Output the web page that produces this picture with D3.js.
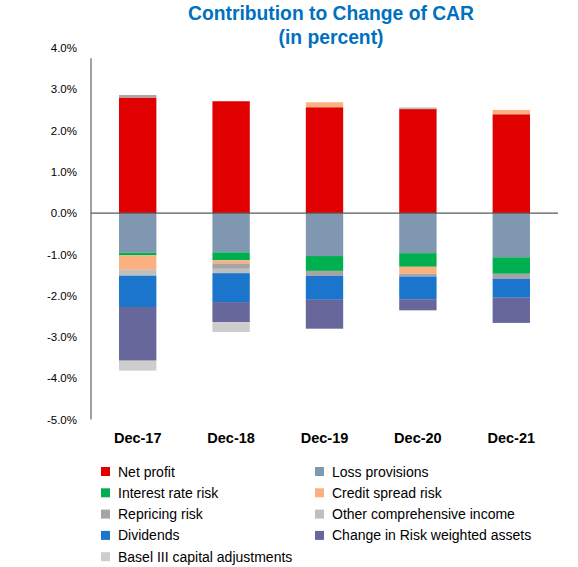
<!DOCTYPE html>
<html><head><meta charset="utf-8">
<script src="https://cdn.jsdelivr.net/npm/d3@7"></script>
<style>body{margin:0;background:#fff;} svg{display:block;}</style>
</head><body>
<svg id="c" width="578" height="567"></svg>
<script>
const categories = ["Dec-17","Dec-18","Dec-19","Dec-20","Dec-21"];
const seriesNames = ["Net profit","Loss provisions","Interest rate risk","Credit spread risk","Repricing risk","Other comprehensive income","Dividends","Change in Risk weighted assets","Basel III capital adjustments"];
const seriesColors = ["#e00000","#7f97b0","#00b050","#fbb080","#a5a5a5","#bfbfbf","#1b75cc","#67679c","#cdcdcd"];
const netProfit      = [2.80, 2.71, 2.565, 2.52, 2.395];
const lossProvisions = [-0.96, -0.95, -1.04, -0.97, -1.07];
const interestRate   = [-0.065, -0.19, -0.36, -0.33, -0.40];
const creditSpread   = [-0.35, -0.08, 0.12, -0.17, 0.105];
const repricing      = [0.06, -0.13, -0.12, -0.065, -0.12];
const otherCompInc   = [-0.14, -0.105, 0, 0.04, 0];
const dividends      = [-0.76, -0.70, -0.58, -0.55, -0.46];
const rwaChange      = [-1.30, -0.485, -0.70, -0.27, -0.61];
const baselIII       = [-0.24, -0.24, 0, 0, 0];
const yTicks = [4,3,2,1,0,-1,-2,-3,-4,-5];
const titleLines = ["Contribution to Change of CAR","(in percent)"];

const seriesValues = [netProfit,lossProvisions,interestRate,creditSpread,repricing,otherCompInc,dividends,rwaChange,baselIII];

const svg = d3.select("#c");
const x = d3.scaleBand().domain(categories).range([91,558]).paddingInner(0.6).paddingOuter(0.3);
const y = d3.scaleLinear().domain([-5,4]).range([419.5,48]);

// title
svg.append("g").selectAll("text").data(titleLines).join("text")
  .attr("x",331).attr("y",(d,i)=>19.5+i*24.5)
  .attr("text-anchor","middle")
  .attr("font-family","Liberation Sans, Arial, sans-serif")
  .attr("font-weight","bold").attr("font-size",19.3)
  .attr("fill","#0070c0").text(d=>d);

// stacked bars
const gBars = svg.append("g");
categories.forEach((cat,ci)=>{
  let pos=0, neg=0;
  seriesValues.forEach((arr,si)=>{
    const v = arr[ci];
    if (!v) return;
    let y0,y1;
    if (v>0){ y0=pos; y1=pos+v; pos=y1; } else { y0=neg; y1=neg+v; neg=y1; }
    gBars.append("rect")
      .attr("x",x(cat)).attr("width",x.bandwidth())
      .attr("y",y(Math.max(y0,y1))).attr("height",Math.abs(y(y0)-y(y1)))
      .attr("fill",seriesColors[si]);
  });
});

// y axis
const yAxis = d3.axisLeft(y).tickValues(yTicks).tickSize(0).tickPadding(14)
  .tickFormat(d=>d3.format(".1f")(d).replace("\u2212","-")+"%");
const ga = svg.append("g").attr("transform","translate(91,0)").call(yAxis);
ga.select(".domain").remove();
ga.selectAll("text").attr("font-family","Liberation Sans, Arial, sans-serif").attr("font-size",11.5).attr("fill","#000");
svg.append("line").attr("x1",91).attr("x2",91).attr("y1",y(3.75)).attr("y2",y(-5))
  .attr("stroke","#808080").attr("stroke-width",1.5);

// zero line
svg.append("line").attr("x1",91).attr("x2",558).attr("y1",y(0)).attr("y2",y(0))
  .attr("stroke","#595959").attr("stroke-width",1.2);

// x labels
const xAxis = d3.axisBottom(x).tickSize(0).tickPadding(0);
const gx = svg.append("g").attr("transform","translate(0,443)").call(xAxis);
gx.select(".domain").remove();
gx.selectAll("text").attr("dy",0).attr("font-family","Liberation Sans, Arial, sans-serif")
  .attr("font-weight","bold").attr("font-size",14.5).attr("fill","#000");

// legend
const leg = svg.append("g");
seriesNames.forEach((n,i)=>{
  const col = i%2, row = Math.floor(i/2);
  const lx = col===0?101:315, ly = 471.5+row*21.3;
  leg.append("rect").attr("x",lx).attr("y",ly-4.5).attr("width",9).attr("height",9).attr("fill",seriesColors[i]);
  leg.append("text").attr("x",lx+17).attr("y",ly+5)
    .attr("font-family","Liberation Sans, Arial, sans-serif").attr("font-size",14).attr("fill","#000").text(n);
});
</script>
</body></html>
